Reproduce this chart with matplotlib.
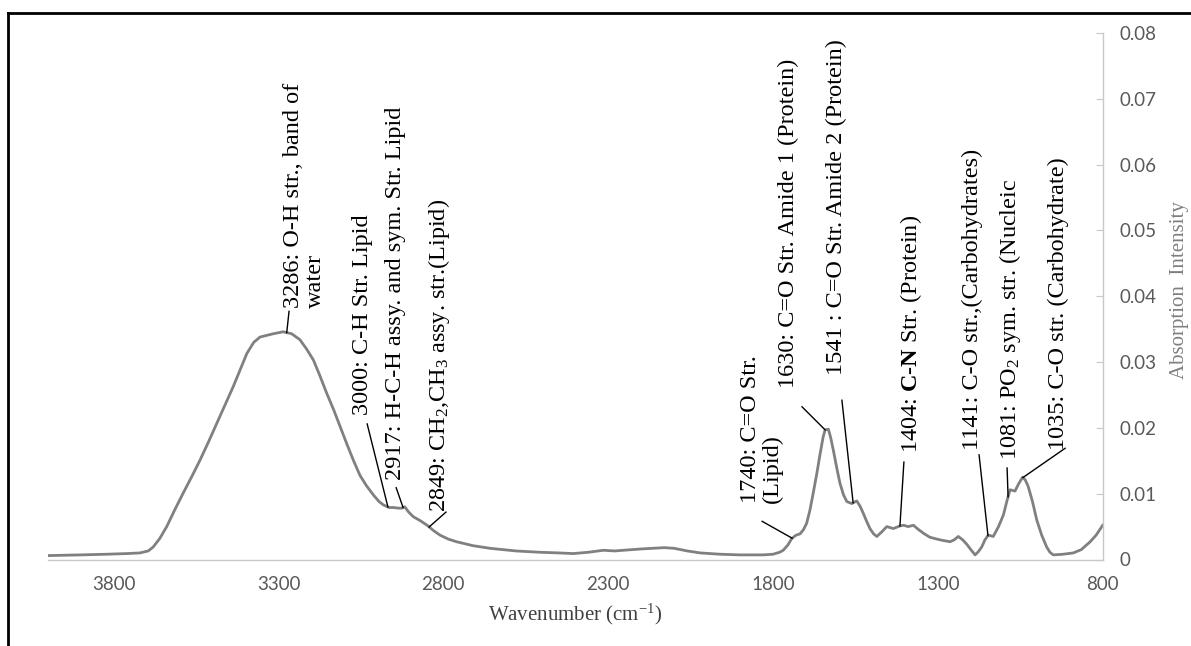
import numpy as np
import matplotlib.pyplot as plt
from matplotlib.lines import Line2D
from matplotlib.ticker import FuncFormatter

plt.rcParams['mathtext.fontset'] = 'custom'
plt.rcParams['mathtext.rm'] = 'Liberation Serif'
plt.rcParams['mathtext.it'] = 'Liberation Serif:italic'
plt.rcParams['mathtext.bf'] = 'Liberation Serif:bold'

# ---- spectrum ---------------------------------------------------------
wavenumber = [3995, 3900, 3822, 3760, 3720, 3695, 3680, 3660, 3639, 3615,
              3589, 3563, 3538, 3512, 3487, 3462, 3437, 3415, 3396, 3375,
              3356, 3316, 3286, 3260, 3235, 3215, 3194, 3175, 3154, 3133,
              3113, 3093, 3073, 3053, 3033, 3012, 2995, 2982, 2965, 2952,
              2935, 2926, 2917, 2905, 2891, 2870, 2849, 2830, 2810, 2785,
              2760, 2710, 2658, 2580, 2507, 2450, 2406, 2360, 2330, 2315,
              2280, 2255, 2200, 2163, 2130, 2100, 2060, 2021, 1960, 1900,
              1830, 1800, 1780, 1769, 1755, 1743, 1730, 1718, 1708, 1698,
              1688, 1678, 1667, 1657, 1648, 1642, 1632, 1625, 1617, 1607,
              1597, 1586, 1576, 1561, 1546, 1536, 1526, 1516, 1506, 1495,
              1485, 1470, 1455, 1435, 1415, 1404, 1390, 1374, 1360, 1344,
              1325, 1303, 1285, 1263, 1250, 1238, 1225, 1212, 1200, 1187,
              1177, 1167, 1157, 1147, 1132, 1116, 1101, 1090, 1081, 1066,
              1055, 1043, 1035, 1026, 1013, 1000, 985, 970, 960, 950,
              920, 889, 865, 838, 820, 803, 800]
absorbance = [0.0006, 0.0007, 0.0008, 0.0009, 0.0010, 0.0013, 0.0019, 0.0032, 0.0050, 0.0075,
              0.0101, 0.0126, 0.0151, 0.0179, 0.0207, 0.0235, 0.0263, 0.0290, 0.0313, 0.0330,
              0.0338, 0.0343, 0.0346, 0.0343, 0.0334, 0.0320, 0.0303, 0.0280, 0.0253, 0.0228,
              0.0202, 0.0176, 0.0151, 0.0128, 0.0112, 0.0098, 0.0088, 0.0083, 0.0079, 0.0079,
              0.0078, 0.0078, 0.0080, 0.0072, 0.0065, 0.0059, 0.0052, 0.0044, 0.0037, 0.0031,
              0.0027, 0.0021, 0.0017, 0.0013, 0.0011, 0.0010, 0.0009, 0.0011, 0.0013, 0.0014,
              0.0013, 0.0014, 0.0016, 0.0017, 0.0018, 0.0017, 0.0013, 0.0010, 0.0008, 0.0007,
              0.0007, 0.0008, 0.0011, 0.0014, 0.0022, 0.0032, 0.0037, 0.0039, 0.0045, 0.0055,
              0.0075, 0.0101, 0.0131, 0.0161, 0.0186, 0.0197, 0.0198, 0.0185, 0.0166, 0.0140,
              0.0116, 0.0098, 0.0088, 0.0085, 0.0089, 0.0081, 0.0070, 0.0058, 0.0047, 0.0039,
              0.0035, 0.0042, 0.0050, 0.0047, 0.0051, 0.0052, 0.0050, 0.0052, 0.0046, 0.0040,
              0.0034, 0.0031, 0.0029, 0.0027, 0.0030, 0.0035, 0.0030, 0.0023, 0.0015, 0.0007,
              0.0012, 0.0019, 0.0030, 0.0037, 0.0035, 0.0050, 0.0068, 0.0090, 0.0106, 0.0104,
              0.0115, 0.0125, 0.0121, 0.0111, 0.0088, 0.0060, 0.0037, 0.0019, 0.0011, 0.0007,
              0.0008, 0.0010, 0.0015, 0.0027, 0.0037, 0.0050, 0.0052]

x_ticks = [3800, 3300, 2800, 2300, 1800, 1300, 800]
y_ticks = [0, 0.01, 0.02, 0.03, 0.04, 0.05, 0.06, 0.07, 0.08]

# band assignments
band_labels = [
    "3286: O-H str., band of\nwater",
    "3000: C-H Str. Lipid",
    "2917: H-C-H assy. and sym. Str. Lipid",
    "2849: CH$_2$,CH$_3$ assy. str.(Lipid)",
    "1740: C=O Str.\n(Lipid)",
    "1630: C=O Str. Amide 1 (Protein)",
    "1541 : C=O Str. Amide 2 (Protein)",
    "1404: $\\mathbf{C}$-$\\mathbf{N}$ Str. (Protein)",
    "1141: C-O str.,(Carbohydrates)",
    "1081: PO$_2$ sym. str. (Nucleic",
    "1035: C-O str. (Carbohydrate)",
]
# layout of the labels: leader start on curve, leader end, text anchor
lead_start = [3275, 2968, 2922, 2843, 1742, 1642, 1557, 1415, 1148, 1087, 1042]
lead_end = [(3268, 0.0377), (3031, 0.0206), (2943, 0.0109), (2792, 0.0072),
            (1833, 0.0058), (1712, 0.0232), (1591, 0.0242), (1403, 0.0148),
            (1175, 0.0159), (1090, 0.0139), (914, 0.0169)]
text_at = [(3222, 0.0382), (3046, 0.0220), (2946, 0.0121), (2812, 0.0072),
           (1836, 0.0086), (1754, 0.0261), (1609, 0.0280), (1381, 0.0162),
           (1196, 0.0166), (1081, 0.0151), (935, 0.0166)]

W, H = 1191, 646
fig = plt.figure(figsize=(W / 100, H / 100), dpi=100)
fig.patch.set_facecolor("white")

# outer frame (left + top only)
fig.add_artist(Line2D([8 / W, 8 / W], [0, 1 - 13 / H], transform=fig.transFigure,
                      color="black", lw=2))
fig.add_artist(Line2D([8 / W, 1], [1 - 13 / H, 1 - 13 / H], transform=fig.transFigure,
                      color="black", lw=2))

ax = fig.add_axes([47.7 / W, 1 - 559.5 / H, 1055 / W, 526.5 / H])
ax.plot(wavenumber, absorbance, color="#808080", lw=2.0, solid_joinstyle="round")
ax.set_xlim(4000, 800)
ax.set_ylim(0, 0.08)

for s in ["top", "left"]:
    ax.spines[s].set_visible(False)
for s in ["bottom", "right"]:
    ax.spines[s].set_color("#c8c8c8")
    ax.spines[s].set_linewidth(1.0)

ax.yaxis.tick_right()
ax.set_xticks(x_ticks)
ax.set_yticks(y_ticks)
ax.yaxis.set_major_formatter(FuncFormatter(lambda v, p: "0" if v == 0 else f"{v:.2f}"))
ax.tick_params(axis="x", length=0, pad=12, labelsize=13.5, labelcolor="#595959")
ax.tick_params(axis="y", direction="in", length=5, color="#c8c8c8", pad=12,
               labelsize=13.5, labelcolor="#595959")
for lab in ax.get_xticklabels() + ax.get_yticklabels():
    lab.set_fontfamily("Lato")

ax.set_xlabel("Wavenumber (cm$^{\\mathrm{-1}}$)", fontfamily="Liberation Serif",
              fontsize=15, color="#404040", labelpad=6)
ax.text(1.073, 0.512, "Absorption  Intensity", transform=ax.transAxes, rotation=90,
        ha="center", va="center", fontfamily="Liberation Serif", fontsize=15,
        color="#7f7f7f")

# annotations
for lab, x0, (x1, y1), (tx, ty) in zip(band_labels, lead_start, lead_end, text_at):
    y0 = np.interp(x0, wavenumber[::-1], absorbance[::-1])
    ax.plot([x0, x1], [y0, y1], color="black", lw=1.0)
    ax.text(tx, ty, lab, rotation=90, ha="center", va="bottom", multialignment="left",
            fontfamily="Liberation Serif", fontsize=17.5, color="black",
            linespacing=1.05)

fig.savefig("out.png", dpi=100)
